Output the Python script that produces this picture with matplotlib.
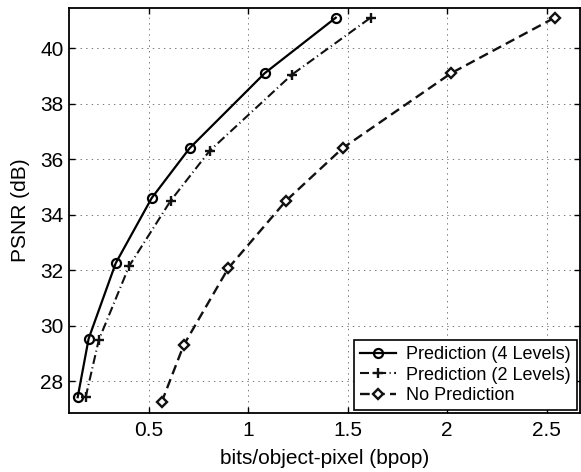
import matplotlib
matplotlib.use("Agg")
import matplotlib.pyplot as plt

plt.rcParams["font.family"] = ["Liberation Sans", "DejaVu Sans"]
plt.rcParams["lines.scale_dashes"] = False

# rate (bpop) / PSNR (dB)
bpop_4lev = [0.143, 0.198, 0.334, 0.515, 0.706, 1.083, 1.44]
psnr_4lev = [27.42, 29.53, 32.25, 34.6, 36.4, 39.1, 41.1]

bpop_2lev = [0.183, 0.249, 0.402, 0.61, 0.806, 1.22, 1.615]
psnr_2lev = [27.42, 29.48, 32.15, 34.5, 36.3, 39.05, 41.1]

bpop_nopred = [0.565, 0.676, 0.90, 1.19, 1.475, 2.02, 2.54]
psnr_nopred = [27.24, 29.3, 32.07, 34.5, 36.4, 39.1, 41.1]

xticks = [0.5, 1, 1.5, 2, 2.5]
xticklabels = ["0.5", "1", "1.5", "2", "2.5"]
yticks = [28, 30, 32, 34, 36, 38, 40]

fig = plt.figure(figsize=(5.81, 4.72), dpi=100)
ax = fig.add_axes([0.119, 0.125, 0.879, 0.858])

ax.plot(bpop_4lev, psnr_4lev, "-", color="black", lw=1.6,
        marker="o", ms=6.5, mfc="none", mew=1.6, label="Prediction (4 Levels)")
ax.plot(bpop_2lev, psnr_2lev, color="#111111", lw=1.5, dashes=(6.5, 2.5, 0.8, 2.5),
        marker="+", ms=6.5, mew=1.7, label="Prediction (2 Levels)")
ax.plot(bpop_nopred, psnr_nopred, color="#111111", lw=1.7, dashes=(7, 3.8),
        marker="D", ms=5.2, mfc="white", mew=1.7, label="No Prediction")

ax.set_xlim(0.1, 2.667)
ax.set_ylim(26.85, 41.45)
ax.set_xticks(xticks)
ax.set_xticklabels(xticklabels)
ax.set_yticks(yticks)
ax.grid(True, linestyle=(0, (1, 3)), color="#777777", lw=0.7)
ax.tick_params(direction="in", top=True, right=True, labelsize=15, length=4, width=1)
ax.tick_params(axis="x", pad=6)
ax.tick_params(axis="y", pad=4)
for s in ax.spines.values():
    s.set_linewidth(1.3)

ax.set_xlabel("bits/object-pixel (bpop)", fontsize=15, labelpad=6)
ax.set_ylabel("PSNR (dB)", fontsize=15, labelpad=7)

leg = ax.legend(loc="lower right", fontsize=13, fancybox=False, framealpha=1,
                edgecolor="black", borderpad=0.35, labelspacing=0.18,
                handlelength=2.0, handletextpad=0.55, borderaxespad=0.15)
leg.get_frame().set_linewidth(1.2)

fig.savefig("out.png", dpi=100)
